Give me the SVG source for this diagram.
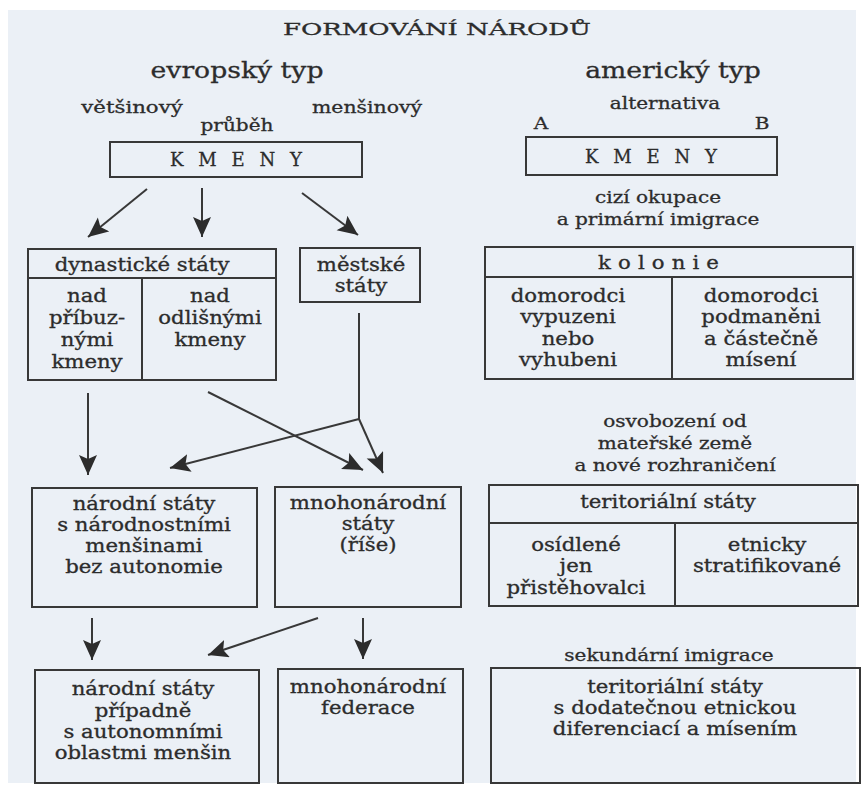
<svg xmlns="http://www.w3.org/2000/svg" width="863" height="787" viewBox="0 0 863 787">
<defs>
<style>
.bg{fill:#ebf0f6}
.box{fill:none;stroke:#383838;stroke-width:2}
.ln{fill:none;stroke:#383838;stroke-width:2}
text{font-family:"DejaVu Serif","Liberation Serif",serif;fill:#2c2c2c;stroke:#2c2c2c;stroke-width:0.3;text-anchor:middle}
.t{font-size:18px}
.h{font-size:23px}
.s{font-size:17px}
.ti{font-size:17px}
</style>
<marker id="ah" markerUnits="userSpaceOnUse" markerWidth="22" markerHeight="20" refX="20" refY="9" orient="auto">
<path d="M0,0 L20,9 L0,18 L4,9 Z" fill="#2c2c2c"/>
</marker>
</defs>
<rect x="0" y="0" width="863" height="787" fill="#ffffff"/>
<rect class="bg" x="8" y="10" width="848" height="773"/>

<g id="title">
<text class="ti" x="437" y="35" textLength="308" lengthAdjust="spacingAndGlyphs">FORMOVÁNÍ NÁRODŮ</text>
</g>
<g id="header-evropsky">
<text class="h" transform="translate(237 0) scale(1.16 1)"><tspan x="0" y="78">evropský typ</tspan></text>
<text class="s" transform="translate(132 0) scale(1.25 1)"><tspan x="0" y="113">většinový</tspan></text>
<text class="s" transform="translate(367 0) scale(1.2 1)"><tspan x="0" y="113">menšinový</tspan></text>
<text class="s" transform="translate(237 0) scale(1.18 1)"><tspan x="0" y="131">průběh</tspan></text>
</g>
<g id="header-americky">
<text class="h" transform="translate(673 0) scale(1.16 1)"><tspan x="0" y="78">americký typ</tspan></text>
<text class="s" transform="translate(665 0) scale(1.18 1)"><tspan x="0" y="109">alternativa</tspan></text>
<text class="s" transform="translate(541 0) scale(1.18 1)"><tspan x="0" y="129">A</tspan></text>
<text class="s" transform="translate(762 0) scale(1.18 1)"><tspan x="0" y="129">B</tspan></text>
</g>

<g id="kmeny-evropsky">
<rect class="box" x="110" y="142" width="252" height="35"/>
<text class="t" x="236" y="166" textLength="132" lengthAdjust="spacing">KMENY</text>
</g>
<g id="kmeny-americky">
<rect class="box" x="526" y="137" width="251" height="38"/>
<text class="t" x="651" y="163" textLength="132" lengthAdjust="spacing">KMENY</text>
</g>

<g id="okupace-label">
<text class="s" transform="translate(658 0) scale(1.18 1)"><tspan x="0" y="203">cizí okupace</tspan><tspan x="0" y="225">a primární imigrace</tspan></text>
</g>

<g id="dynasticke-staty">
<rect class="box" x="28" y="249" width="248" height="131"/>
<line class="ln" x1="28" y1="278" x2="276" y2="278"/>
<line class="ln" x1="142" y1="278" x2="142" y2="380"/>
<text class="t" transform="translate(142 0) scale(1.18 1)"><tspan x="0" y="271">dynastické státy</tspan></text>
<text class="t" transform="translate(87 0) scale(1.18 1)"><tspan x="0" y="302">nad</tspan><tspan x="0" y="324">příbuz-</tspan><tspan x="0" y="346">nými</tspan><tspan x="0" y="368">kmeny</tspan></text>
<text class="t" transform="translate(210 0) scale(1.18 1)"><tspan x="0" y="302">nad</tspan><tspan x="0" y="324">odlišnými</tspan><tspan x="0" y="346">kmeny</tspan></text>
</g>

<g id="mestske-staty">
<rect class="box" x="300" y="248" width="120" height="54"/>
<text class="t" transform="translate(361 0) scale(1.18 1)"><tspan x="0" y="271">městské</tspan><tspan x="0" y="292">státy</tspan></text>
</g>

<g id="kolonie">
<rect class="box" x="485" y="247" width="368" height="132"/>
<line class="ln" x1="485" y1="277" x2="853" y2="277"/>
<line class="ln" x1="672" y1="277" x2="672" y2="379"/>
<text class="t" transform="translate(662 0) scale(1.18 1)" letter-spacing="6"><tspan x="0" y="269">kolonie</tspan></text>
<text class="t" transform="translate(568 0) scale(1.18 1)"><tspan x="0" y="302">domorodci</tspan><tspan x="0" y="323">vypuzeni</tspan><tspan x="0" y="345">nebo</tspan><tspan x="0" y="366">vyhubeni</tspan></text>
<text class="t" transform="translate(761 0) scale(1.18 1)"><tspan x="0" y="302">domorodci</tspan><tspan x="0" y="323">podmaněni</tspan><tspan x="0" y="345">a částečně</tspan><tspan x="0" y="366">mísení</tspan></text>
</g>

<g id="osvobozeni-label">
<text class="s" transform="translate(675 0) scale(1.18 1)"><tspan x="0" y="427">osvobození od</tspan><tspan x="0" y="449">mateřské země</tspan><tspan x="0" y="471">a nové rozhraničení</tspan></text>
</g>

<g id="narodni-staty">
<rect class="box" x="32" y="488" width="225" height="119"/>
<text class="t" transform="translate(144 0) scale(1.18 1)"><tspan x="0" y="510">národní státy</tspan><tspan x="0" y="531">s národnostními</tspan><tspan x="0" y="552">menšinami</tspan><tspan x="0" y="573">bez autonomie</tspan></text>
</g>

<g id="mnohonarodni-staty">
<rect class="box" x="275" y="487" width="186" height="120"/>
<text class="t" transform="translate(368 0) scale(1.18 1)"><tspan x="0" y="509">mnohonárodní</tspan><tspan x="0" y="530">státy</tspan><tspan x="0" y="551">(říše)</tspan></text>
</g>

<g id="teritorialni-staty">
<rect class="box" x="489" y="485" width="369" height="121"/>
<line class="ln" x1="489" y1="523" x2="858" y2="523"/>
<line class="ln" x1="675" y1="523" x2="675" y2="606"/>
<text class="t" transform="translate(668 0) scale(1.18 1)"><tspan x="0" y="508">teritoriální státy</tspan></text>
<text class="t" transform="translate(576 0) scale(1.18 1)"><tspan x="0" y="551">osídlené</tspan><tspan x="0" y="572">jen</tspan><tspan x="0" y="594">přistěhovalci</tspan></text>
<text class="t" transform="translate(767 0) scale(1.18 1)"><tspan x="0" y="551">etnicky</tspan><tspan x="0" y="572">stratifikované</tspan></text>
</g>

<g id="sekundarni-label">
<text class="s" transform="translate(669 0) scale(1.18 1)"><tspan x="0" y="661">sekundární imigrace</tspan></text>
</g>

<g id="narodni-staty-autonomni">
<rect class="box" x="35" y="670" width="224" height="113"/>
<text class="t" transform="translate(143 0) scale(1.18 1)"><tspan x="0" y="695">národní státy</tspan><tspan x="0" y="717">případně</tspan><tspan x="0" y="738">s autonomními</tspan><tspan x="0" y="759">oblastmi menšin</tspan></text>
</g>

<g id="mnohonarodni-federace">
<rect class="box" x="278" y="669" width="185" height="114"/>
<text class="t" transform="translate(368 0) scale(1.18 1)"><tspan x="0" y="693">mnohonárodní</tspan><tspan x="0" y="714">federace</tspan></text>
</g>

<g id="teritorialni-staty-sekundarni">
<rect class="box" x="491" y="668" width="369" height="115"/>
<text class="t" transform="translate(675 0) scale(1.18 1)"><tspan x="0" y="693">teritoriální státy</tspan><tspan x="0" y="714">s dodatečnou etnickou</tspan><tspan x="0" y="735">diferenciací a mísením</tspan></text>
</g>

<g id="connectors">
<line class="ln" x1="147" y1="189" x2="88" y2="237" marker-end="url(#ah)"/>
<line class="ln" x1="202" y1="188" x2="202" y2="237" marker-end="url(#ah)"/>
<line class="ln" x1="302" y1="193" x2="358" y2="235" marker-end="url(#ah)"/>
<line class="ln" x1="88" y1="393" x2="88" y2="475" marker-end="url(#ah)"/>
<line class="ln" x1="208" y1="392" x2="363" y2="470" marker-end="url(#ah)"/>
<polyline class="ln" points="359,313 359,419"/>
<line class="ln" x1="359" y1="419" x2="170" y2="468" marker-end="url(#ah)"/>
<line class="ln" x1="359" y1="419" x2="383" y2="473" marker-end="url(#ah)"/>
<line class="ln" x1="92" y1="618" x2="92" y2="660" marker-end="url(#ah)"/>
<line class="ln" x1="318" y1="618" x2="208" y2="655" marker-end="url(#ah)"/>
<line class="ln" x1="363" y1="618" x2="363" y2="659" marker-end="url(#ah)"/>
</g>
</svg>
